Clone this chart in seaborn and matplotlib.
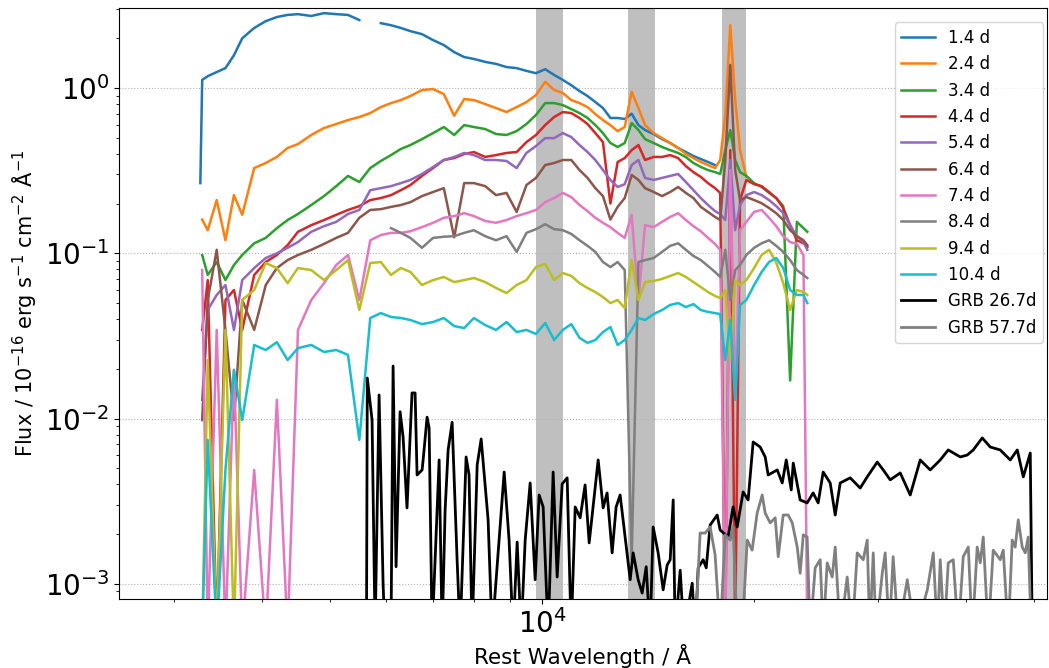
import numpy as np
import matplotlib
matplotlib.use("Agg")
import matplotlib.pyplot as plt
import matplotlib.ticker as mticker
import seaborn as sns

plt.rcParams['font.family'] = ['DejaVu Sans']

nan = np.nan

# common wavelength grid of the SN spectra (rest frame, Angstrom)
wave_sn = [3270, 3290, 3350, 3450, 3550, 3650, 3750, 3900, 4050, 4200,
           4350, 4500, 4700, 4900, 5100, 5300, 5500, 5700, 5900, 6100,
           6300, 6500, 6750, 7000, 7250, 7500, 7750, 8000, 8300, 8600,
           8900, 9200, 9500, 9800, 10100, 10400, 10700, 11000, 11300, 11600,
           11900, 12200, 12500, 12800, 13100, 13400, 13700, 14000, 14400, 14800,
           15200, 15600, 16000, 16400, 16800, 17200, 17600, 17900, 18200, 18500,
           18800, 19100, 19500, 20000, 20500, 21000, 21500, 22000, 22500, 23000,
           23500, 23800]

flux_1p4 = [0.266, 1.12, 1.18, 1.25, 1.32, 1.58, 2.00, 2.31, 2.54, 2.69,
            2.77, 2.80, 2.73, 2.84, 2.80, 2.77, 2.58, nan, 2.47, 2.40,
            2.31, 2.21, 2.12, 1.95, 1.82, 1.65, 1.54, 1.50, 1.44, 1.40,
            1.34, 1.32, 1.27, 1.23, 1.30, 1.20, 1.12, 1.04, 0.959, 0.895,
            0.823, 0.757, 0.659, 0.659, 0.65, 0.70, 0.597, 0.557, 0.527, 0.491,
            0.465, 0.434, 0.410, 0.388, 0.372, 0.357, 0.342, nan, nan, nan,
            nan, nan, nan, nan, nan, nan, nan, nan, nan, nan,
            nan, nan]

flux_2p4 = [nan, 0.16, 0.138, 0.210, 0.120, 0.225, 0.171, 0.328, 0.352, 0.383,
            0.434, 0.458, 0.520, 0.573, 0.606, 0.640, 0.668, 0.706, 0.767, 0.811,
            0.846, 0.895, 0.973, 0.986, 0.92, 0.68, 0.858, 0.846, 0.80, 0.757,
            0.716, 0.767, 0.823, 0.907, 1.09, 0.973, 0.933, 0.846, 0.811, 0.767,
            0.696, 0.640, 0.597, 0.549, 0.581, 0.95, 0.757, 0.597, 0.534, 0.498,
            0.465, 0.434, 0.399, 0.377, 0.357, 0.342, 0.328, 0.367, 0.687, 2.4,
            0.846, 0.421, 0.29, nan, nan, nan, nan, nan, nan, nan,
            nan, nan]

flux_3p4 = [nan, 0.0977, 0.074, 0.0886, 0.0689, 0.085, 0.0977, 0.115, 0.124, 0.142,
            0.159, 0.173, 0.196, 0.222, 0.255, 0.294, 0.270, 0.328, 0.362, 0.393,
            0.428, 0.452, 0.491, 0.534, 0.581, 0.520, 0.597, 0.581, 0.565, 0.527,
            0.520, 0.549, 0.606, 0.687, 0.811, 0.811, 0.789, 0.746, 0.706, 0.659,
            0.597, 0.534, 0.465, 0.440, 0.465, 0.614, 0.557, 0.491, 0.465, 0.440,
            0.421, 0.405, 0.382, 0.352, 0.333, 0.319, 0.310, 0.302, 0.421, 0.557,
            0.367, 0.310, 0.294, 0.266, 0.252, 0.232, 0.216, 0.193, 0.017, 0.155,
            0.142, 0.135]

flux_4p4 = [nan, 0.0344, 0.0689, 0.0005, 0.0522, 0.060, 0.0344, 0.074, 0.0886, 0.0977,
            0.112, 0.135, 0.148, 0.159, 0.171, 0.183, 0.193, 0.210, 0.216, 0.225,
            0.241, 0.259, 0.294, 0.328, 0.367, 0.377, 0.399, 0.410, 0.383, 0.393,
            0.405, 0.410, 0.471, 0.520, 0.597, 0.668, 0.716, 0.706, 0.659, 0.606,
            0.534, 0.471, 0.20, 0.357, 0.377, 0.421, 0.452, 0.367, 0.383, 0.383,
            0.393, 0.377, 0.337, 0.310, 0.290, 0.266, 0.248, 0.232, 0.0005, 0.421,
            0.0005, 0.210, 0.278, 0.262, 0.255, 0.235, 0.216, 0.188, 0.148, 0.120,
            0.115, 0.109]

flux_5p4 = [nan, 0.0130, 0.0454, 0.056, 0.0643, 0.0344, 0.0689, 0.0815, 0.0937, 0.100,
            0.108, 0.117, 0.135, 0.146, 0.155, 0.173, 0.183, 0.241, 0.248, 0.255,
            0.266, 0.278, 0.302, 0.333, 0.367, 0.383, 0.405, 0.393, 0.367, 0.367,
            0.362, 0.328, 0.405, 0.446, 0.498, 0.498, 0.534, 0.505, 0.452, 0.410,
            0.367, 0.319, 0.278, 0.252, 0.262, 0.342, 0.367, 0.286, 0.278, 0.286,
            0.294, 0.302, 0.270, 0.241, 0.216, 0.196, 0.180, 0.173, 0.159, 0.367,
            0.138, 0.196, 0.225, 0.235, 0.225, 0.210, 0.193, 0.175, 0.148, 0.127,
            0.117, 0.105]

flux_6p4 = [nan, 0.0098, 0.0522, 0.105, 0.0344, 0.0098, 0.0522, 0.0344, 0.0643, 0.0815,
            0.091, 0.0977, 0.105, 0.114, 0.124, 0.133, 0.164, 0.183, 0.185, 0.191,
            0.196, 0.204, 0.222, 0.235, 0.248, 0.125, 0.266, 0.266, 0.255, 0.225,
            0.232, 0.178, 0.259, 0.286, 0.342, 0.352, 0.367, 0.367, 0.319, 0.286,
            0.248, 0.222, 0.16, 0.191, 0.216, 0.298, 0.278, 0.248, 0.235, 0.222,
            0.235, 0.252, 0.232, 0.216, 0.191, 0.178, 0.166, 0.159, 0.367, 1.38,
            0.319, 0.210, 0.219, 0.210, 0.201, 0.188, 0.175, 0.159, 0.138, 0.127,
            0.120, 0.112]

flux_7p4 = [nan, 0.0792, 0.0005, 0.0344, 0.0005, 0.0197, 0.0005, 0.00489, 0.0005, 0.0130,
            0.0005, 0.0344, 0.0522, 0.066, 0.085, 0.0977, 0.0522, 0.120, 0.129, 0.133,
            0.133, 0.136, 0.144, 0.153, 0.164, 0.168, 0.175, 0.168, 0.157, 0.153,
            0.159, 0.168, 0.175, 0.183, 0.204, 0.216, 0.232, 0.219, 0.196, 0.180,
            0.164, 0.153, 0.144, 0.133, 0.124, 0.171, 0.0522, 0.148, 0.144, 0.155,
            0.166, 0.175, 0.159, 0.146, 0.136, 0.124, 0.114, 0.105, 0.0005, 0.319,
            0.0130, 0.138, 0.155, 0.178, 0.183, 0.164, 0.146, 0.127, 0.117, 0.114,
            0.0977, 0.0005]

flux_8p4 = [nan, nan, nan, nan, nan, nan, nan, nan, nan, nan,
            nan, nan, nan, nan, nan, nan, nan, nan, nan, 0.142,
            0.133, 0.124, 0.108, 0.124, 0.126, 0.127, 0.133, 0.138, 0.127, 0.120,
            0.127, 0.102, 0.133, 0.140, 0.150, 0.140, 0.138, 0.131, 0.120, 0.111,
            0.102, 0.0886, 0.0826, 0.0886, 0.0792, 0.0014, 0.0886, 0.091, 0.0937, 0.102,
            0.111, 0.115, 0.105, 0.0964, 0.091, 0.0838, 0.0771, 0.0719, 0.105, 0.0522,
            0.0792, 0.085, 0.0977, 0.108, 0.115, 0.120, 0.111, 0.102, 0.091, 0.0792,
            0.074, 0.0709]

flux_9p4 = [nan, 0.0005, 0.0226, 0.0005, 0.0344, 0.0005, 0.0522, 0.060, 0.0874, 0.0815,
            0.066, 0.0815, 0.0792, 0.0689, 0.0792, 0.091, 0.0454, 0.0874, 0.0886, 0.074,
            0.0815, 0.0771, 0.0643, 0.0689, 0.0719, 0.067, 0.0689, 0.0709, 0.067, 0.0617,
            0.0575, 0.0643, 0.0689, 0.0826, 0.0862, 0.0689, 0.076, 0.073, 0.066, 0.0617,
            0.0583, 0.0544, 0.050, 0.0522, 0.0467, 0.091, 0.0522, 0.067, 0.068, 0.070,
            0.073, 0.076, 0.0719, 0.067, 0.0625, 0.0583, 0.0552, 0.0537, 0.060, 0.0226,
            0.0689, 0.0643, 0.0689, 0.0815, 0.0977, 0.105, 0.088, 0.066, 0.0454, 0.060,
            0.0583, 0.056]

flux_10p4 = [nan, 0.0005, 0.00743, 0.0005, 0.0049, 0.0197, 0.0098, 0.0279, 0.026, 0.029,
             0.0226, 0.0267, 0.0279, 0.0253, 0.026, 0.0243, 0.00743, 0.0406, 0.0435, 0.0412,
             0.0406, 0.0395, 0.0373, 0.0384, 0.0406, 0.0363, 0.0353, 0.0406, 0.0368, 0.0344,
             0.0384, 0.0334, 0.0344, 0.0325, 0.0379, 0.0299, 0.0344, 0.0373, 0.0308, 0.0287,
             0.0299, 0.0334, 0.0358, 0.0279, 0.0299, 0.0344, 0.0406, 0.0395, 0.0429, 0.0454,
             0.0487, 0.050, 0.0473, 0.0493, 0.0454, 0.0442, 0.0435, 0.0429, 0.0226, 0.0395,
             0.0130, 0.0487, 0.0522, 0.0643, 0.0771, 0.0886, 0.0937, 0.0815, 0.060, 0.056,
             0.056, 0.050]

# GRB comparison spectra
wave_grb26 = [5630, 5645, 5734, 5791, 5867, 5944, 5980, 6100, 6142, 6202,
              6284, 6346, 6428, 6534, 6600, 6643, 6753, 6776, 6864, 6910,
              6978, 7140, 7211, 7281, 7353, 7450, 7572, 7647, 7798, 7874,
              7952, 8086, 8192, 8380, 8490, 8832, 8975, 9095, 9215, 9337,
              9460, 9615, 9774, 9902, 10033, 10198, 10366, 10503, 10676, 10852,
              10996, 11141, 11323, 11508, 11662, 12010, 12207, 12366, 12572, 12737,
              12905, 13335, 13467, 13689, 13868, 14053, 14234, 14376, 14613, 14854,
              15050, 15200, 15350, 15450, 15704, 15900, 16333, 16500, 16656, 16930,
              17100, 17322, 17724, 17896, 18370, 18672, 18923, 19295, 19612, 19937,
              20400, 20737, 20941, 21571, 21926, 22216, 22582, 22730, 23251, 23787,
              24258, 24660, 25067, 25650, 26074, 26503, 27384, 28295, 28950, 29916,
              30508, 31212, 32250, 33323, 34430, 35577, 36758, 37733, 39245, 40150,
              40947, 42170, 43290, 44730, 46220, 47290, 48230, 49340, 49660]
flux_grb26 = [0.0005, 0.0176, 0.0098, 0.0005, 0.0139, 0.00101, 0.0005, 0.0005, 0.0208, 0.00127,
              0.0110, 0.00774, 0.00288, 0.0143, 0.0143, 0.00456, 0.00489, 0.00562, 0.0102, 0.00877,
              0.0005, 0.00562, 0.0005, 0.00280, 0.00646, 0.0095, 0.00140, 0.0005, 0.00586, 0.00456,
              0.0005, 0.00524, 0.00753, 0.00244, 0.0005, 0.00475, 0.00184, 0.0005, 0.00179, 0.0005,
              0.00184, 0.00408, 0.00106, 0.00345, 0.00292, 0.0005, 0.00475, 0.00110, 0.00402, 0.00438,
              0.0005, 0.00292, 0.00251, 0.00397, 0.00177, 0.00562, 0.00288, 0.00355, 0.00154, 0.00292,
              0.00345, 0.00106, 0.00154, 0.00106, 0.00088, 0.00127, 0.0005, 0.00221, 0.00154, 0.00092,
              0.00130, 0.00140, 0.00322, 0.0005, 0.00121, 0.0005, 0.00101, 0.0005, 0.00125, 0.00140,
              0.00125, 0.00227, 0.00261, 0.00212, 0.00192, 0.00292, 0.00221, 0.00360, 0.00322, 0.00722,
              0.00673, 0.00586, 0.00456, 0.00489, 0.00408, 0.00562, 0.00370, 0.00538, 0.00322, 0.00309,
              0.00355, 0.00309, 0.00475, 0.00408, 0.00261, 0.00408, 0.00438, 0.00380, 0.00444, 0.00546,
              0.00489, 0.00426, 0.00469, 0.00345, 0.00562, 0.00489, 0.00562, 0.00646, 0.00586, 0.00602,
              0.00646, 0.00764, 0.00673, 0.00646, 0.00562, 0.00646, 0.00444, 0.00619, 0.0005]

wave_grb57 = [16494, 16763, 17040, 17322, 17605, 17896, 18194, 18492, 18672, 18923,
              19234, 19554, 19870, 20200, 20535, 20737, 21081, 21429, 21640, 21996,
              22358, 22655, 23028, 23251, 23486, 23787, 24024, 24420, 24825, 25067,
              25399, 25818, 26074, 26503, 27115, 27562, 28017, 28576, 28950, 29200,
              29526, 29800, 30410, 30703, 31110, 31513, 32046, 33000, 33878, 35236,
              35935, 36410, 36758, 37240, 37733, 38358, 38990, 39630, 40290, 40820,
              41480, 41900, 42310, 43000, 43710, 44730, 45170, 45910, 46510, 46970,
              47440, 48060, 48540, 49010, 49500]
flux_grb57 = [0.0005, 0.00203, 0.00203, 0.00221, 0.00150, 0.0005, 0.00198, 0.00184, 0.00221, 0.0005,
              0.0005, 0.00184, 0.00160, 0.00268, 0.00345, 0.00268, 0.00234, 0.00251, 0.00146, 0.00261,
              0.00261, 0.00234, 0.00167, 0.00116, 0.00198, 0.00192, 0.0005, 0.00125, 0.00140, 0.0005,
              0.00134, 0.00110, 0.00167, 0.0005, 0.00110, 0.0005, 0.00154, 0.00140, 0.00184, 0.0005,
              0.00154, 0.0005, 0.00116, 0.00154, 0.0005, 0.00146, 0.0005, 0.00106, 0.0005, 0.00092,
              0.00154, 0.0005, 0.00140, 0.0005, 0.00134, 0.00140, 0.0005, 0.00146, 0.00167, 0.0005,
              0.00167, 0.00134, 0.00192, 0.0005, 0.00160, 0.00140, 0.00160, 0.0005, 0.00184, 0.00167,
              0.00244, 0.00167, 0.00154, 0.00192, 0.0005]

# telluric regions (rest frame)
telluric = [(9800, 10700), (13250, 14480), (18020, 19490)]

epochs = ['1.4 d', '2.4 d', '3.4 d', '4.4 d', '5.4 d', '6.4 d', '7.4 d', '8.4 d', '9.4 d', '10.4 d']
sn_fluxes = [flux_1p4, flux_2p4, flux_3p4, flux_4p4, flux_5p4,
             flux_6p4, flux_7p4, flux_8p4, flux_9p4, flux_10p4]
colors = sns.color_palette('tab10', 10)


def draw(ax, x, y, color, label, lw):
    x = np.asarray(x, float)
    y = np.asarray(y, float)
    idx = np.flatnonzero(~np.isnan(y))
    runs = np.split(idx, np.where(np.diff(idx) > 1)[0] + 1)
    for i, r in enumerate(runs):
        sns.lineplot(x=x[r], y=y[r], ax=ax, color=color, lw=lw,
                     label=label if i == 0 else None,
                     estimator=None, sort=False)


fig = plt.figure(figsize=(10.49, 6.68), dpi=100)
ax = fig.add_axes([0.1134, 0.1033, 0.8846, 0.8847])
ax.set_xscale('log')
ax.set_yscale('log')

for lo, hi in telluric:
    ax.axvspan(lo, hi, color='grey', alpha=0.5, lw=0, zorder=0)

for lab, fl, c in zip(epochs, sn_fluxes, colors):
    assert len(fl) == len(wave_sn), lab
    draw(ax, wave_sn, fl, c, lab, 1.8)

draw(ax, wave_grb26, flux_grb26, 'black', 'GRB 26.7d', 2)
draw(ax, wave_grb57, flux_grb57, 'grey', 'GRB 57.7d', 2)

ax.set_xlim(2506, 52100)
ax.set_ylim(8.1e-4, 3.05)

ax.xaxis.set_minor_formatter(mticker.NullFormatter())
ax.tick_params(axis='both', which='major', labelsize=20)
ax.yaxis.grid(True, which='major', linestyle=':', color='0.7', lw=0.8)
ax.set_axisbelow(True)

ax.set_xlabel('Rest Wavelength / Å', fontsize=15.5)
ax.set_ylabel(r'Flux / $10^{-16}$ erg s$^{-1}$ cm$^{-2}$ Å$^{-1}$', fontsize=15)

ax.legend(loc='upper right', fontsize=12, bbox_to_anchor=(1.005, 0.99))

fig.savefig('out.png', dpi=100)
